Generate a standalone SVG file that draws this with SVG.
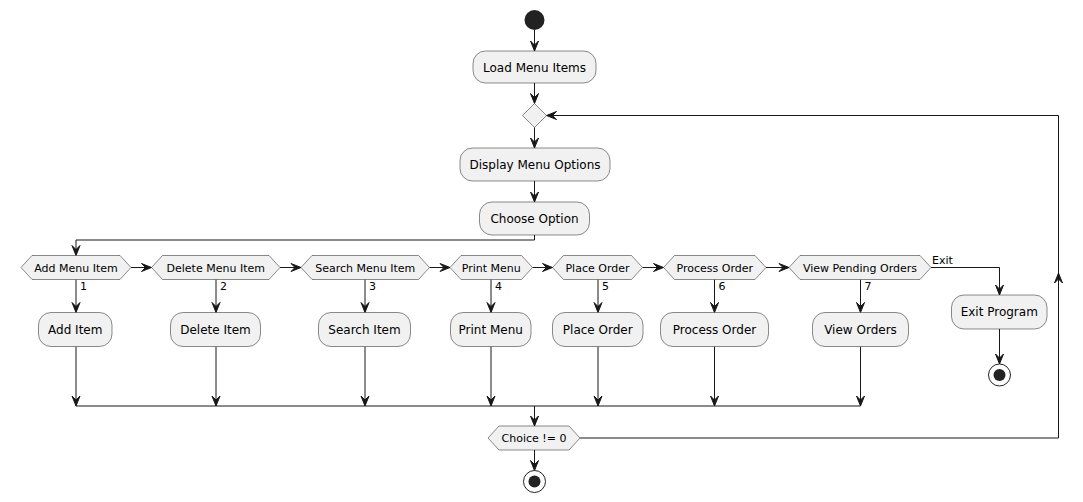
<svg xmlns="http://www.w3.org/2000/svg" width="1083" height="502" viewBox="0 0 1083 502">
<defs>
<marker id="arr" viewBox="-1 -1 12 10" refX="10" refY="4" markerWidth="12" markerHeight="10" markerUnits="userSpaceOnUse" orient="auto">
<path d="M0,0 L10,4 L0,8 L4,4 Z" fill="#181818" stroke="#181818" stroke-width="1" stroke-linejoin="miter"/>
</marker>
<style>
.box{fill:#F1F1F1;stroke:#181818;stroke-width:0.5}
.t{font-family:"DejaVu Sans",sans-serif;font-size:12px;fill:#000;text-anchor:middle}
.h{font-family:"DejaVu Sans",sans-serif;font-size:11px;fill:#000;text-anchor:middle}
.l{font-family:"DejaVu Sans",sans-serif;font-size:11px;fill:#000}
.c{fill:none;stroke:#181818;stroke-width:1}
.ca{fill:none;stroke:#181818;stroke-width:1;marker-end:url(#arr)}
</style>
</defs>
<rect width="1083" height="502" fill="#FFFFFF"/>
<g id="connectors">
<path class="ca" d="M534.5,30 V51"/>
<path class="ca" d="M534.5,83 V103.5"/>
<path class="ca" d="M534.5,127.5 V148"/>
<path class="ca" d="M534.5,181 V202"/>
<path class="ca" d="M534.5,235 V240 H76 V255.5"/>
<path class="ca" d="M131,267.5 H151.5"/>
<path class="ca" d="M280,267.5 H301"/>
<path class="ca" d="M429.5,267.5 H450"/>
<path class="ca" d="M532.5,267.5 H552.5"/>
<path class="ca" d="M642.5,267.5 H663.5"/>
<path class="ca" d="M766,267.5 H789"/>
<path class="ca" d="M931,267.5 H999.5 V295"/>
<text class="l" x="932" y="264">Exit</text>
<path class="ca" d="M76,279.5 V312.5"/>
<path class="ca" d="M216,279.5 V312.5"/>
<path class="ca" d="M365,279.5 V312.5"/>
<path class="ca" d="M491,279.5 V312.5"/>
<path class="ca" d="M598,279.5 V312.5"/>
<path class="ca" d="M714.5,279.5 V312.5"/>
<path class="ca" d="M860.5,279.5 V312.5"/>
<text class="l" x="80" y="290">1</text>
<text class="l" x="220" y="290">2</text>
<text class="l" x="369" y="290">3</text>
<text class="l" x="495" y="290">4</text>
<text class="l" x="602" y="290">5</text>
<text class="l" x="718.5" y="290">6</text>
<text class="l" x="864.5" y="290">7</text>
<path class="ca" d="M76,346.5 V406"/>
<path class="ca" d="M216,346.5 V406"/>
<path class="ca" d="M365,346.5 V406"/>
<path class="ca" d="M491,346.5 V406"/>
<path class="ca" d="M598,346.5 V406"/>
<path class="ca" d="M714.5,346.5 V406"/>
<path class="ca" d="M860.5,346.5 V406"/>
<path class="c" d="M76,406 H860.5"/>
<path class="ca" d="M534.5,406 V426"/>
<path class="ca" d="M534.5,450 V470.5"/>
<path class="ca" d="M999.5,329 V364"/>
<path class="ca" d="M580,438 H1058.5 V273"/>
<path class="ca" d="M1058.5,274 V115.5 H546.5"/>
</g>
<g id="start"><circle cx="534.5" cy="20" r="10" fill="#222222"/></g>
<g id="load"><rect class="box" x="473" y="51" width="123" height="32" rx="12.5"/><text class="t" x="534.5" y="71.5">Load Menu Items</text></g>
<g id="merge"><polygon class="box" points="534.5,103.5 546.5,115.5 534.5,127.5 522.5,115.5"/></g>
<g id="display"><rect class="box" x="460" y="148" width="150" height="33" rx="12.5"/><text class="t" x="535" y="168.5">Display Menu Options</text></g>
<g id="choose"><rect class="box" x="479.5" y="202" width="110" height="33" rx="12.5"/><text class="t" x="534.5" y="222.5">Choose Option</text></g>
<g id="d1"><polygon class="box" points="21,267.5 32,255.5 120,255.5 131,267.5 120,279.5 32,279.5"/><text class="h" x="76" y="271.5">Add Menu Item</text></g>
<g id="d2"><polygon class="box" points="151.5,267.5 162.5,255.5 269,255.5 280,267.5 269,279.5 162.5,279.5"/><text class="h" x="215.75" y="271.5">Delete Menu Item</text></g>
<g id="d3"><polygon class="box" points="301,267.5 312,255.5 418.5,255.5 429.5,267.5 418.5,279.5 312,279.5"/><text class="h" x="365.25" y="271.5">Search Menu Item</text></g>
<g id="d4"><polygon class="box" points="450,267.5 461,255.5 521.5,255.5 532.5,267.5 521.5,279.5 461,279.5"/><text class="h" x="491.25" y="271.5">Print Menu</text></g>
<g id="d5"><polygon class="box" points="552.5,267.5 563.5,255.5 631.5,255.5 642.5,267.5 631.5,279.5 563.5,279.5"/><text class="h" x="597.5" y="271.5">Place Order</text></g>
<g id="d6"><polygon class="box" points="663.5,267.5 674.5,255.5 755,255.5 766,267.5 755,279.5 674.5,279.5"/><text class="h" x="714.75" y="271.5">Process Order</text></g>
<g id="d7"><polygon class="box" points="789,267.5 800,255.5 920,255.5 931,267.5 920,279.5 800,279.5"/><text class="h" x="860" y="271.5">View Pending Orders</text></g>
<g id="a1"><rect class="box" x="38.5" y="312.5" width="73.5" height="34" rx="12.5"/><text class="t" x="75.25" y="333.5">Add Item</text></g>
<g id="a2"><rect class="box" x="170.5" y="312.5" width="90" height="34" rx="12.5"/><text class="t" x="215.5" y="333.5">Delete Item</text></g>
<g id="a3"><rect class="box" x="318.5" y="312.5" width="92" height="34" rx="12.5"/><text class="t" x="364.5" y="333.5">Search Item</text></g>
<g id="a4"><rect class="box" x="450.5" y="312.5" width="80.5" height="34" rx="12.5"/><text class="t" x="490.75" y="333.5">Print Menu</text></g>
<g id="a5"><rect class="box" x="552.5" y="312.5" width="90.5" height="34" rx="12.5"/><text class="t" x="597.75" y="333.5">Place Order</text></g>
<g id="a6"><rect class="box" x="660.5" y="312.5" width="108" height="34" rx="12.5"/><text class="t" x="714.5" y="333.5">Process Order</text></g>
<g id="a7"><rect class="box" x="812.5" y="312.5" width="96" height="34" rx="12.5"/><text class="t" x="860.5" y="333.5">View Orders</text></g>
<g id="exit"><rect class="box" x="951.5" y="295" width="95.5" height="34" rx="12.5"/><text class="t" x="999.25" y="316">Exit Program</text></g>
<g id="end1"><circle cx="999.5" cy="375" r="11" fill="none" stroke="#222222" stroke-width="1"/><circle cx="999.5" cy="375" r="6" fill="#222222"/></g>
<g id="choice"><polygon class="box" points="488,438 499,426 569,426 580,438 569,450 499,450"/><text class="h" x="534" y="442">Choice != 0</text></g>
<g id="end2"><circle cx="534.5" cy="481.5" r="11" fill="none" stroke="#222222" stroke-width="1"/><circle cx="534.5" cy="481.5" r="6" fill="#222222"/></g>
</svg>
